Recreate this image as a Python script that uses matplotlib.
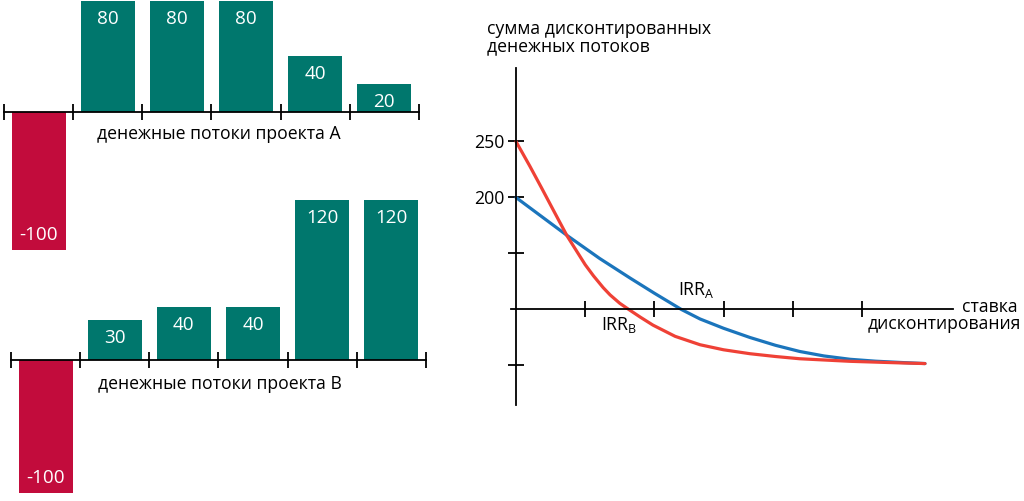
import numpy as np
import matplotlib
matplotlib.use("Agg")
import matplotlib.pyplot as plt

plt.rcParams['font.family'] = ['Open Sans', 'DejaVu Sans']
plt.rcParams['mathtext.fontset'] = 'custom'
plt.rcParams['mathtext.rm'] = 'Open Sans'

# cash flows of the two projects
periods = np.arange(6)
flows_a = [-100, 80, 80, 80, 40, 20]
flows_b = [-100, 30, 40, 40, 120, 120]

# discounted sum curves (schematic units: one y tick = 50)
rate_a = [0, 0.37, 0.74, 1.21, 1.65, 2.0, 2.39, 2.66, 3.0, 3.38, 3.75, 4.1, 4.45,
          4.83, 5.2, 5.55, 5.91]
npv_a = [100, 83, 66, 45.5, 28, 14.5, 0, -8.5, -16.8, -25, -32, -37.5, -41.5,
         -44.5, -46.2, -47.3, -48.3]
rate_b = [0, 0.2, 0.37, 0.55, 0.74, 1.0, 1.12, 1.26, 1.36, 1.5, 1.63, 1.8, 1.98,
          2.3, 2.66, 3.0, 3.38, 3.75, 4.1, 4.83, 5.55, 5.91]
npv_b = [150, 128, 108.5, 87.5, 65.5, 40, 30, 19.5, 13, 5.5, 0, -7, -14,
         -24, -31.5, -36, -39.5, -42, -44, -46.3, -47.7, -48.3]
ytick_pos = [-50, 50, 100, 150]
ytick_labels = ['', '', '200', '250']

teal = '#00776D'
crimson = '#C20C3C'
fs = 12.7

W, H = 1024, 501
fig = plt.figure(figsize=(W / 100, H / 100), dpi=100)


def px_axes(left, top, right, bottom):
    return fig.add_axes([left / W, 1 - bottom / H, (right - left) / W, (bottom - top) / H])


def px_text(x, y, s, **kw):
    fig.text(x / W, 1 - y / H, s, fontsize=fs, **kw)


def flow_panel(ax, flows, ylim):
    colors = [crimson if v < 0 else teal for v in flows]
    ax.bar(periods + 0.5, flows, width=0.78, color=colors)
    for p, v in zip(periods, flows):
        off = -13 if v > 0 else 10.5
        ax.annotate(str(v), (p + 0.5, v), xytext=(0, off), textcoords='offset points',
                    ha='center', va='center', color='white', fontsize=13.6)
    ax.set_xlim(0, 6)
    ax.set_ylim(*ylim)
    for s in ['top', 'right', 'left']:
        ax.spines[s].set_visible(False)
    ax.spines['bottom'].set_position(('data', 0))
    ax.spines['bottom'].set_linewidth(1.3)
    ax.set_xticks(range(7))
    ax.set_yticks([])
    ax.tick_params(axis='x', direction='inout', length=11, width=1.3, labelbottom=False)
    ax.patch.set_alpha(0)


ax1 = px_axes(4, 0, 419, 260)
flow_panel(ax1, flows_a, (-107.2, 80.5))
px_text(219, 134, 'денежные потоки проекта А', ha='center', va='center')

ax2 = px_axes(11, 190, 426, 501)
flow_panel(ax2, flows_b, (-106, 127.8))
px_text(220, 384, 'денежные потоки проекта В', ha='center', va='center')

# discounted cash flow curves
ax3 = px_axes(511, 68, 953, 405)
ax3.plot(rate_a, npv_a, color='#1B75BC', lw=2.3, solid_capstyle='round')
ax3.plot(rate_b, npv_b, color='#EF4136', lw=2.3, solid_capstyle='round')
ax3.set_xlim(-0.072, 6.315)
ax3.set_ylim(-85.3, 215.6)
for s in ['top', 'right']:
    ax3.spines[s].set_visible(False)
for s in ['bottom', 'left']:
    ax3.spines[s].set_position(('data', 0))
    ax3.spines[s].set_linewidth(1.3)
ax3.set_xticks(range(1, 6))
ax3.set_yticks(ytick_pos)
ax3.set_yticklabels(ytick_labels)
ax3.tick_params(axis='x', direction='inout', length=11, width=1.3, labelbottom=False)
ax3.tick_params(axis='y', direction='inout', length=11, width=1.3, labelsize=fs, pad=3)
ax3.patch.set_alpha(0)

ax3.text(2.34, 17.4, r'IRR$_{\mathregular{A}}$', fontsize=fs, ha='left', va='center')
ax3.text(1.23, -13.8, r'IRR$_{\mathregular{B}}$', fontsize=fs, ha='left', va='center')

px_text(962, 307, 'ставка', ha='left', va='center')
px_text(1021, 324, 'дисконтирования', ha='right', va='center')
px_text(487, 29, 'сумма дисконтированных', ha='left', va='center')
px_text(487, 46, 'денежных потоков', ha='left', va='center')

fig.savefig('out.png', dpi=100)
